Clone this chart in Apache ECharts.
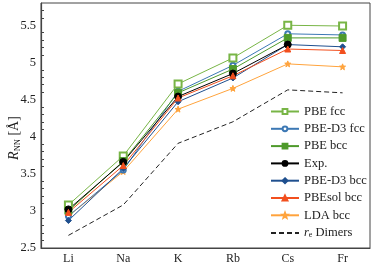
<!DOCTYPE html>
<html><head><meta charset="utf-8">
<script src="https://cdn.jsdelivr.net/npm/echarts@6/dist/echarts.min.js"></script>
<style>html,body{margin:0;padding:0;background:#fff}#c{width:373px;height:265px}</style>
</head><body><div id="c"></div>
<script>
const categories = ['Li','Na','K','Rb','Cs','Fr'];
const pbeFcc    = [3.08, 3.74, 4.71, 5.06, 5.50, 5.49];
const pbeD3Fcc  = [2.93, 3.55, 4.61, 4.96, 5.385, 5.37];
const pbeBcc    = [3.00, 3.67, 4.59, 4.91, 5.33, 5.33];
const expVals   = [3.02, 3.66, 4.54, 4.85, 5.24, null];
const pbeD3Bcc  = [2.87, 3.57, 4.47, 4.79, 5.24, 5.21];
const pbesolBcc = [2.98, 3.61, 4.52, 4.82, 5.18, 5.16];
const ldaBcc    = [2.93, 3.53, 4.37, 4.65, 4.98, 4.94];
const dimers    = [2.67, 3.08, 3.91, 4.20, 4.63, 4.59];
const yTicks = [2.5, 3, 3.5, 4, 4.5, 5, 5.5];

const font = 'Liberation Serif';
const star = 'path://M0,-10 L2.5,-3.4 L9.5,-3.1 L4,1.3 L5.9,8.1 L0,4.2 L-5.9,8.1 L-4,1.3 L-9.5,-3.1 L-2.5,-3.4 Z';
function s(name, data, color, symbol, size, extra) {
  return Object.assign({
    name, type: 'line', data, symbol, symbolSize: size,
    lineStyle: {color, width: 1}, itemStyle: {color, borderColor: color, borderWidth: 1},
    emphasis: {disabled: true}, animation: false, connectNulls: false
  }, extra || {});
}
const chart = echarts.init(document.getElementById('c'), null, {renderer: 'canvas'});
chart.setOption({
  animation: false,
  grid: {left: 41, right: 3, top: 3, bottom: 17, show: true, borderColor: '#444', borderWidth: 1},
  xAxis: {
    type: 'category', data: categories, boundaryGap: true,
    axisLine: {lineStyle: {color: '#444', width: 1.2}},
    axisTick: {inside: true, alignWithLabel: true, length: 5, lineStyle: {color: '#444'}},
    axisLabel: {fontFamily: font, fontSize: 12, color: '#222', margin: 5}
  },
  yAxis: {
    type: 'value', min: 2.5, max: 5.8, interval: 0.5,
    axisLine: {show: true, lineStyle: {color: '#444', width: 1.2}},
    axisTick: {inside: true, length: 5, lineStyle: {color: '#444'}},
    minorTick: {show: true, splitNumber: 5, length: 3, lineStyle: {color: '#444'}},
    splitLine: {show: false},
    axisLabel: {fontFamily: font, fontSize: 12.5, color: '#222', margin: 5,
      formatter: v => yTicks.includes(+v.toFixed(1)) ? String(+v.toFixed(1)) : ''}
  },
  legend: {
    orient: 'vertical', left: 265, top: 100, itemWidth: 28, itemHeight: 6, itemGap: 4.3,
    textStyle: {fontFamily: font, fontSize: 12.5, color: '#222', lineHeight: 12,
      rich: {i: {fontFamily: font, fontSize: 12.5, fontStyle: 'italic', color: '#222', lineHeight: 12},
             sub: {fontFamily: font, fontSize: 8, color: '#222', verticalAlign: 'bottom', padding: [5, 0, 0, 0], lineHeight: 12},
             n: {fontFamily: font, fontSize: 12.5, color: '#222', lineHeight: 12}}},
    formatter: n => n === 'Dimers' ? '{i|r}{sub|e}{n| Dimers}' : n,
    data: ['PBE fcc','PBE-D3 fcc','PBE bcc','Exp.','PBE-D3 bcc','PBEsol bcc','LDA bcc','Dimers']
  },
  graphic: [{
    type: 'text', x: 14, y: 138, rotation: Math.PI / 2,
    style: {
      text: '{i|R}{sub|NN}{n| [Å]}', align: 'center', verticalAlign: 'middle',
      rich: {i: {fontFamily: font, fontSize: 14, fontStyle: 'italic', fill: '#222'},
             sub: {fontFamily: font, fontSize: 8.5, fill: '#222', verticalAlign: 'bottom', padding: [7, 0, 0, 0]},
             n: {fontFamily: font, fontSize: 14, fill: '#222'}}
    }
  }],
  series: [
    s('Dimers', dimers, '#222', 'circle', 1, {showSymbol: false, itemStyle: {color: '#222', opacity: 0},
      lineStyle: {color: '#222', width: 1, type: [5, 3]}}),
    s('LDA bcc', ldaBcc, '#ffa33c', star, 6),
    s('PBE-D3 fcc', pbeD3Fcc, '#3c78b4', 'emptyCircle', 5),
    s('PBE fcc', pbeFcc, '#78b546', 'emptyRect', 7),
    s('PBE bcc', pbeBcc, '#4e9a2b', 'rect', 7),
    s('PBE-D3 bcc', pbeD3Bcc, '#1f4f8e', 'diamond', 6),
    s('Exp.', expVals, '#000', 'circle', 7),
    s('PBEsol bcc', pbesolBcc, '#f24f1e', 'triangle', 6)
  ]
});
</script></body></html>
